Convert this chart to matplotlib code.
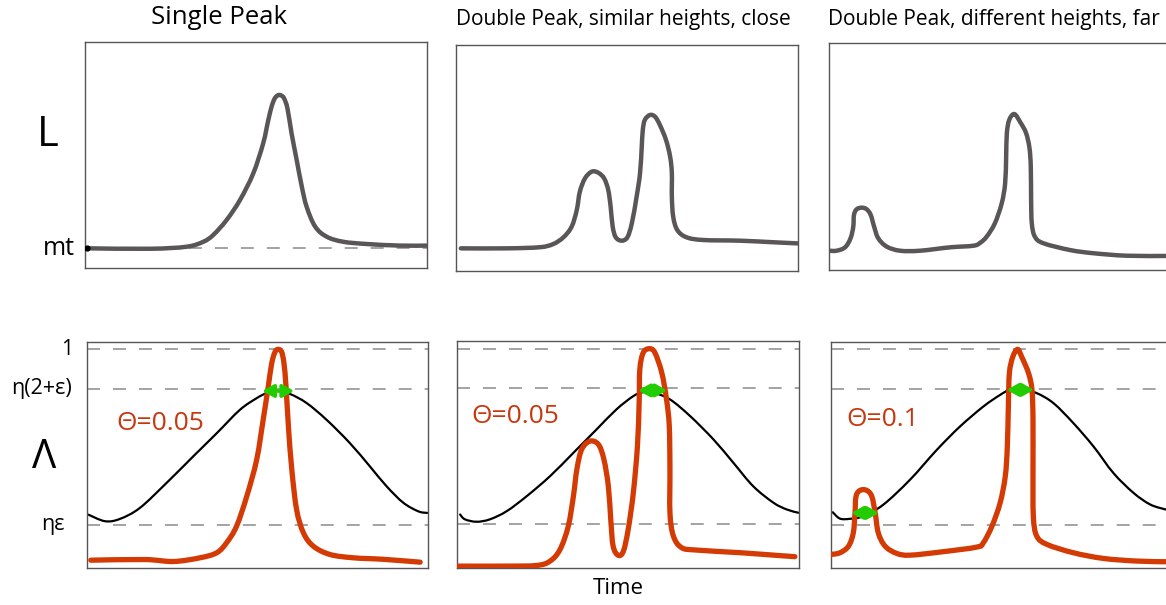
import matplotlib
matplotlib.use("Agg")
import matplotlib.pyplot as plt
from matplotlib.path import Path
from matplotlib.patches import PathPatch

plt.rcParams['font.family'] = ['Open Sans', 'DejaVu Sans']

# ---- column titles ----
titles = ["Single Peak",
          "Double Peak, similar heights, close",
          "Double Peak, different heights, far"]

# ---- L: raw signal (time 0-100, level 0-100) ----
L1_t = [0.7, 19.0, 29.7, 34.6, 37.5, 41.4, 45.3, 49.2, 52.1, 53.6, 54.6, 55.5, 56.5, 57.4,
        58.2, 59.2, 60.4, 61.9, 63.4, 64.8, 67.3, 70.7, 75.5, 82.4, 92.1, 99.9]
L1_v = [8.7, 8.5, 9.4, 11.6, 14.6, 21.2, 30.0, 41.8, 55.1, 65.4, 71.5, 75.0, 76.4, 76.2,
        75.0, 70.5, 59.5, 47.7, 35.9, 27.1, 18.3, 13.8, 11.6, 10.6, 9.9, 9.9]

L2_t = [1.5, 14.9, 24.6, 28.5, 31.5, 33.9, 35.4, 36.3, 37.8, 39.8, 41.7, 43.4, 44.6, 45.3,
        45.9, 46.8, 48.5, 50.2, 51.5, 52.9, 53.9, 54.4, 54.7, 55.3, 56.8, 58.3, 59.7, 61.5,
        62.7, 63.2, 63.2, 63.6, 64.8, 67.5, 72.4, 83.1, 92.9, 100.0]
L2_v = [9.9, 9.9, 10.4, 11.8, 14.8, 19.5, 26.9, 35.0, 40.9, 43.9, 43.4, 40.9, 35.8, 28.4,
        19.5, 14.8, 13.3, 14.8, 21.0, 32.8, 43.2, 54.9, 62.3, 66.8, 69.0, 68.2, 64.6, 57.9,
        50.5, 43.2, 32.8, 23.9, 18.0, 14.8, 13.6, 13.3, 12.6, 12.1]

L3_t = [0.0, 2.2, 4.7, 6.3, 7.1, 7.3, 8.1, 9.6, 11.0, 12.2, 13.2, 14.4, 16.9, 20.8, 26.6,
        35.4, 42.2, 44.2, 46.1, 48.5, 50.5, 51.5, 51.8, 52.0, 52.7, 54.2, 56.0, 57.6, 58.6,
        59.0, 59.1, 59.3, 60.2, 62.7, 70.5, 77.3, 87.0, 98.5]
L3_v = [8.5, 8.5, 10.0, 14.0, 19.1, 24.3, 26.8, 27.5, 26.8, 24.3, 19.1, 14.0, 10.3, 8.5, 8.5,
        10.0, 10.7, 12.0, 14.7, 20.6, 29.4, 38.2, 50.0, 60.3, 66.2, 68.8, 65.0, 60.5, 54.0,
        45.6, 30.9, 20.6, 14.7, 11.8, 8.8, 7.4, 6.3, 6.2]

mt_level = 8.7

# ---- Lambda: smoothed envelope (black) and normalised signal (red) ----
env1_t = [0.5, 5.4, 9.8, 15.6, 23.4, 31.2, 38.1, 44.9, 49.8, 52.7, 55.7, 59.6, 64.5, 70.3,
          77.1, 83.0, 87.9, 92.8, 97.2, 99.8]
env1_v = [0.245, 0.215, 0.226, 0.276, 0.390, 0.511, 0.617, 0.724, 0.777, 0.800, 0.810, 0.796,
          0.754, 0.678, 0.572, 0.465, 0.374, 0.299, 0.260, 0.253]

env2_t = [1.0, 2.4, 5.8, 9.7, 14.6, 20.5, 27.3, 34.1, 40.9, 46.7, 51.6, 54.5, 57.4, 62.3,
          68.2, 75.0, 80.8, 86.6, 92.5, 96.4, 99.8]
env2_v = [0.245, 0.223, 0.212, 0.223, 0.260, 0.329, 0.420, 0.526, 0.633, 0.724, 0.784, 0.802,
          0.800, 0.769, 0.693, 0.587, 0.481, 0.374, 0.299, 0.268, 0.253]

env3_t = [0.6, 2.7, 5.6, 9.5, 15.4, 23.2, 31.0, 37.8, 44.6, 49.5, 52.4, 56.3, 60.2, 65.1,
          70.9, 76.8, 82.6, 88.5, 93.4, 98.0]
env3_v = [0.256, 0.227, 0.226, 0.238, 0.291, 0.405, 0.541, 0.648, 0.739, 0.792, 0.815, 0.815,
          0.800, 0.754, 0.663, 0.556, 0.435, 0.344, 0.291, 0.268]

sig1_t = [1.2, 17.1, 25.4, 33.2, 38.1, 41.0, 43.9, 46.9, 49.8, 51.7, 53.2, 54.2, 55.2, 56.1,
          57.1, 57.8, 58.4, 59.1, 60.1, 61.5, 63.5, 66.4, 71.3, 78.1, 86.9, 97.7]
sig1_v = [0.037, 0.040, 0.031, 0.048, 0.071, 0.117, 0.192, 0.329, 0.496, 0.678, 0.830, 0.936,
          0.989, 1.000, 0.989, 0.936, 0.830, 0.648, 0.450, 0.268, 0.162, 0.101, 0.063, 0.048,
          0.041, 0.028]

sig2_t = [0.5, 14.6, 23.4, 27.3, 30.2, 32.6, 34.1, 35.1, 36.5, 38.9, 41.4, 43.0, 44.3, 45.0,
          45.7, 47.2, 48.7, 50.1, 51.6, 52.8, 53.3, 53.5, 54.5, 56.3, 57.9, 59.9, 61.3, 62.1,
          62.3, 62.3, 63.3, 65.7, 70.1, 82.8, 92.5, 98.8]
sig2_v = [0.010, 0.010, 0.013, 0.033, 0.086, 0.192, 0.329, 0.450, 0.541, 0.579, 0.564, 0.496,
          0.374, 0.223, 0.101, 0.059, 0.078, 0.177, 0.344, 0.556, 0.754, 0.906, 0.982, 1.000,
          0.982, 0.891, 0.769, 0.648, 0.450, 0.253, 0.147, 0.094, 0.083, 0.071, 0.060, 0.053]

sig3_t = [0.0, 2.7, 5.2, 6.6, 7.1, 7.4, 8.6, 10.5, 12.0, 13.0, 13.9, 15.9, 19.3, 23.2, 32.9,
          42.7, 44.6, 47.1, 49.5, 51.0, 51.6, 51.9, 52.2, 53.2, 54.6, 55.8, 57.8, 58.8, 59.1,
          59.1, 59.2, 60.2, 63.2, 70.9, 79.7, 89.5, 98.0]
sig3_v = [0.063, 0.071, 0.101, 0.162, 0.253, 0.329, 0.356, 0.356, 0.329, 0.253, 0.162, 0.101,
          0.068, 0.060, 0.076, 0.097, 0.117, 0.192, 0.299, 0.420, 0.556, 0.739, 0.891, 0.966,
          1.000, 0.966, 0.891, 0.815, 0.678, 0.450, 0.238, 0.147, 0.109, 0.071, 0.045, 0.033,
          0.030]

theta_labels = ["Θ=0.05", "Θ=0.05", "Θ=0.1"]

# reference levels of the lower row
level_one = 1.0
level_high = 0.82      # η(2+ε)
level_low = 0.20       # ηε

# width markers: (start, end, level) per panel
widths = [
    [(51.4, 60.8, 0.81)],
    [(53.0, 61.5, 0.81)],
    [(6.0, 14.1, 0.253), (51.4, 59.4, 0.815)],
]

# ---- styling ----
GREY = "#5a5657"
RED = "#d43a04"
RED_TXT = "#c8380e"
GREEN = "#22cc00"
DASH = "#8a8a8a"
FRAME = "#555555"

W, H = 1166, 605
fig = plt.figure(figsize=(W / 100, H / 100), dpi=100)


def rect(l, r, t, b):
    return [l / W, 1 - b / H, (r - l) / W, (b - t) / H]


top_rects = [rect(85, 427, 41.7, 268), rect(455.7, 797.7, 45, 270.7), rect(829, 1171, 43.3, 270)]
bot_rects = [rect(86.7, 428, 341.7, 568.3), rect(456.7, 799, 341, 568.3), rect(830.7, 1173, 341.7, 568.3)]

L_series = [(L1_t, L1_v), (L2_t, L2_v), (L3_t, L3_v)]
env_series = [(env1_t, env1_v), (env2_t, env2_v), (env3_t, env3_v)]
sig_series = [(sig1_t, sig1_v), (sig2_t, sig2_v), (sig3_t, sig3_v)]


def smooth_curve(ax, xs, ys, **kw):
    """Draw a Catmull-Rom style Bezier path passing through every (x, y) point."""
    pts = list(zip(xs, ys))
    n = len(pts)
    verts = [pts[0]]
    codes = [Path.MOVETO]
    for k in range(n - 1):
        p0 = pts[k - 1] if k > 0 else pts[k]
        p1 = pts[k]
        p2 = pts[k + 1]
        p3 = pts[k + 2] if k + 2 < n else pts[k + 1]
        c1 = (p1[0] + (p2[0] - p0[0]) / 6.0, p1[1] + (p2[1] - p0[1]) / 6.0)
        c2 = (p2[0] - (p3[0] - p1[0]) / 6.0, p2[1] - (p3[1] - p1[1]) / 6.0)
        verts += [c1, c2, p2]
        codes += [Path.CURVE4] * 3
    patch = PathPatch(Path(verts, codes), fill=False, joinstyle='round', capstyle='round',
                      **kw)
    ax.add_patch(patch)
    return patch


def frame(ax):
    ax.set_xticks([])
    ax.set_yticks([])
    for s in ax.spines.values():
        s.set_color(FRAME)
        s.set_linewidth(1.0)


dash_style = dict(color=DASH, lw=1.1, dashes=(8.5, 8.5))

for i in range(3):
    ax = fig.add_axes(top_rects[i])
    frame(ax)
    ax.set_xlim(0, 100)
    ax.set_ylim(0, 100)
    t, v = L_series[i]
    if i == 0:
        ax.plot([0, 100], [mt_level, mt_level], zorder=1, **dash_style)
    smooth_curve(ax, t, v, edgecolor=GREY, lw=3.2, zorder=3)
    if i == 0:
        ax.plot([t[0]], [v[0]], 'o', color='black', ms=3.5, zorder=4)

    ax = fig.add_axes(bot_rects[i])
    frame(ax)
    ax.set_xlim(0, 100)
    ax.set_ylim(0, 1.035)
    for lv in (level_one, level_high, level_low):
        ax.plot([0, 100], [lv, lv], zorder=1, **dash_style)
    et, ev = env_series[i]
    smooth_curve(ax, et, ev, edgecolor='black', lw=1.6, zorder=2)
    st, sv = sig_series[i]
    smooth_curve(ax, st, sv, edgecolor=RED, lw=3.8, zorder=3)
    for (x1, x2, y) in widths[i]:
        ax.annotate('', xy=(x2, y), xytext=(x1, y),
                    arrowprops=dict(arrowstyle='<|-|>,head_length=0.45,head_width=0.25',
                                    color=GREEN, lw=2.6, mutation_scale=15,
                                    shrinkA=0, shrinkB=0),
                    zorder=5)
    tx = [0.215, 0.170, 0.153][i]
    ty = [0.641, 0.668, 0.655][i]
    ax.text(tx, ty, theta_labels[i], transform=ax.transAxes, color=RED_TXT,
            fontsize=19, ha='center', va='center')
    if i == 0:
        tr = ax.get_yaxis_transform()
        ax.text(-0.040, level_one, "1", transform=tr, ha='right', va='center', fontsize=15)
        ax.text(-0.043, level_high, "η(2+ε)", transform=tr, ha='right', va='center',
                fontsize=15.5)
        ax.text(-0.064, level_low, "ηε", transform=tr, ha='right', va='center', fontsize=15.5)

# mt label on the first upper panel
ax0 = fig.axes[0]
ax0.text(-0.029, mt_level, "mt", transform=ax0.get_yaxis_transform(), ha='right',
         va='center', fontsize=18)

# row and column labels
title_pos = [(219, 18, 18.5), (623, 19, 15), (994, 19, 15)]
for (x, y, fs), txt in zip(title_pos, titles):
    fig.text(x / W, 1 - y / H, txt, ha='center', va='center', fontsize=fs)

fig.text(48 / W, 1 - 135 / H, "L", ha='center', va='center', fontsize=30)
fig.text(44 / W, 1 - 458 / H, "Λ", ha='center', va='center', fontsize=29)
fig.text(618 / W, 1 - 588 / H, "Time", ha='center', va='center', fontsize=16)

fig.savefig("out.png", dpi=100)
